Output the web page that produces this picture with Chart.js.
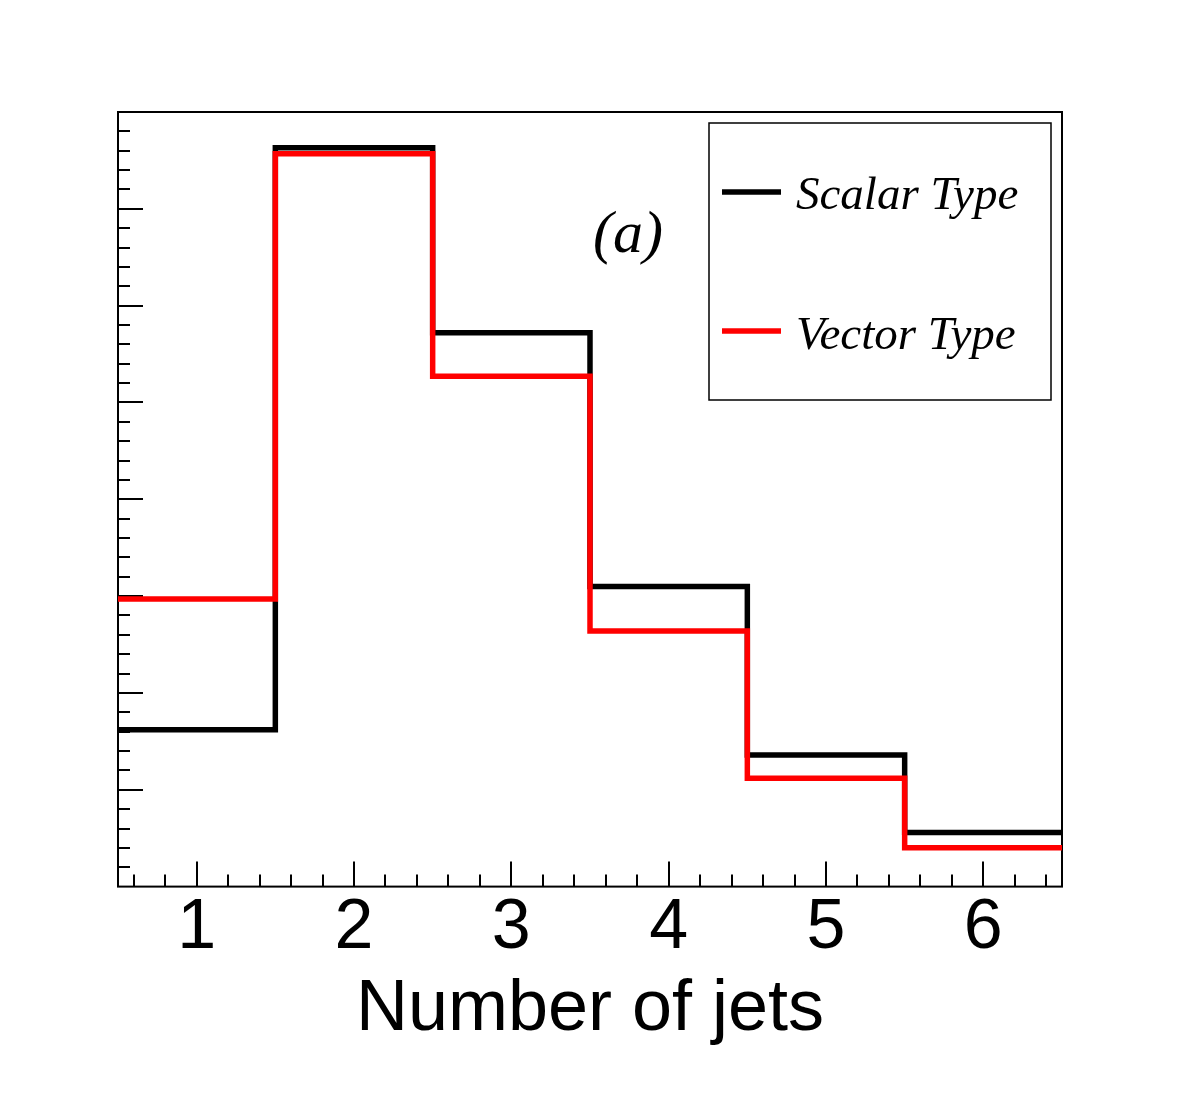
<!DOCTYPE html>
<html>
<head>
<meta charset="utf-8">
<script src="https://cdn.jsdelivr.net/npm/chart.js@4.4.1/dist/chart.umd.min.js"></script>
<style>
  body { margin: 0; background: #fff; }
  canvas { display: block; }
</style>
</head>
<body>
<canvas id="jetsChart" width="1182" height="1111"></canvas>
<script>
// histogram bins (number of jets) and normalised counts
const nJets = [1, 2, 3, 4, 5, 6];
const scalarType = [1.62, 7.63, 5.72, 3.10, 1.36, 0.56];
const vectorType = [2.97, 7.57, 5.27, 2.64, 1.12, 0.40];
const xTickLabels = [1, 2, 3, 4, 5, 6];
const seriesNames = ["Scalar Type", "Vector Type"];

// turn bin centres + contents into step points at the bin edges
function histPoints(values) {
  const pts = nJets.map((c, i) => ({ x: c - 0.5, y: values[i] }));
  pts.push({ x: nJets[nJets.length - 1] + 0.5, y: values[values.length - 1] });
  return pts;
}

// ROOT-like frame, inward ticks, legend box and "(a)" label
const rootStyle = {
  id: "rootStyle",
  beforeDatasetsDraw(chart) {
    const { ctx, chartArea: a, scales } = chart;
    const x = scales.x, y = scales.y;
    ctx.save();
    ctx.strokeStyle = "#000";
    ctx.lineWidth = 2;
    ctx.strokeRect(a.left, a.top, a.right - a.left, a.bottom - a.top);

    ctx.beginPath();
    for (let i = 3; i <= 32; i++) {
      const v = i / 5;
      const px = Math.round(x.getPixelForValue(v));
      const len = i % 5 === 0 ? 25 : 12;
      ctx.moveTo(px, a.bottom);
      ctx.lineTo(px, a.bottom - len);
    }
    for (let i = 1; i < 40; i++) {
      const v = i / 5;
      const py = Math.round(y.getPixelForValue(v));
      const len = i % 5 === 0 ? 25 : 12;
      ctx.moveTo(a.left, py);
      ctx.lineTo(a.left + len, py);
    }
    ctx.stroke();
    ctx.restore();
  },
  afterDatasetsDraw(chart) {
    const { ctx } = chart;
    ctx.save();
    // legend
    ctx.fillStyle = "#fff";
    ctx.fillRect(709, 123, 342, 277);
    ctx.strokeStyle = "#000";
    ctx.lineWidth = 1.5;
    ctx.strokeRect(709, 123, 342, 277);
    const rows = [
      { y: 192, color: "#000", text: seriesNames[0], base: 209 },
      { y: 331, color: "#ff0000", text: seriesNames[1], base: 349 }
    ];
    ctx.font = "italic 47px 'Liberation Serif', 'Times New Roman', serif";
    ctx.textBaseline = "alphabetic";
    ctx.textAlign = "left";
    rows.forEach(r => {
      ctx.strokeStyle = r.color;
      ctx.lineWidth = 5.5;
      ctx.beginPath();
      ctx.moveTo(722, r.y);
      ctx.lineTo(781, r.y);
      ctx.stroke();
      ctx.fillStyle = "#000";
      ctx.fillText(r.text, 796, r.base);
    });
    // panel label
    ctx.font = "italic 60px 'Liberation Serif', 'Times New Roman', serif";
    ctx.textAlign = "center";
    ctx.fillText("(a)", 628, 252);
    ctx.restore();
  }
};

const ctx = document.getElementById("jetsChart").getContext("2d");
const jetsChart = new Chart(ctx, {
  type: "line",
  data: {
    datasets: [
      {
        label: seriesNames[0],
        data: histPoints(scalarType),
        borderColor: "#000000",
        borderWidth: 5.5,
        stepped: true,
        pointRadius: 0,
        fill: false,
        order: 1
      },
      {
        label: seriesNames[1],
        data: histPoints(vectorType),
        borderColor: "#ff0000",
        borderWidth: 5.5,
        stepped: true,
        pointRadius: 0,
        fill: false,
        order: 0
      }
    ]
  },
  options: {
    responsive: false,
    animation: false,
    layout: { padding: { left: 118, right: 120, top: 112, bottom: 58 } },
    plugins: { legend: { display: false }, tooltip: { enabled: false } },
    scales: {
      x: {
        type: "linear",
        min: 0.5,
        max: 6.5,
        afterBuildTicks: scale => {
          scale.ticks = xTickLabels.map(v => ({ value: v }));
        },
        grid: { display: false, drawTicks: false },
        border: { display: false },
        ticks: {
          color: "#000",
          padding: 0,
          maxRotation: 0,
          autoSkip: false,
          font: { family: "'Liberation Sans', Arial, sans-serif", size: 70 }
        },
        title: {
          display: true,
          text: "Number of jets",
          color: "#000",
          padding: { top: -4, bottom: 0 },
          font: { family: "'Liberation Sans', Arial, sans-serif", size: 72 }
        }
      },
      y: {
        display: false,
        min: 0,
        max: 8
      }
    }
  },
  plugins: [rootStyle]
});
</script>
</body>
</html>
